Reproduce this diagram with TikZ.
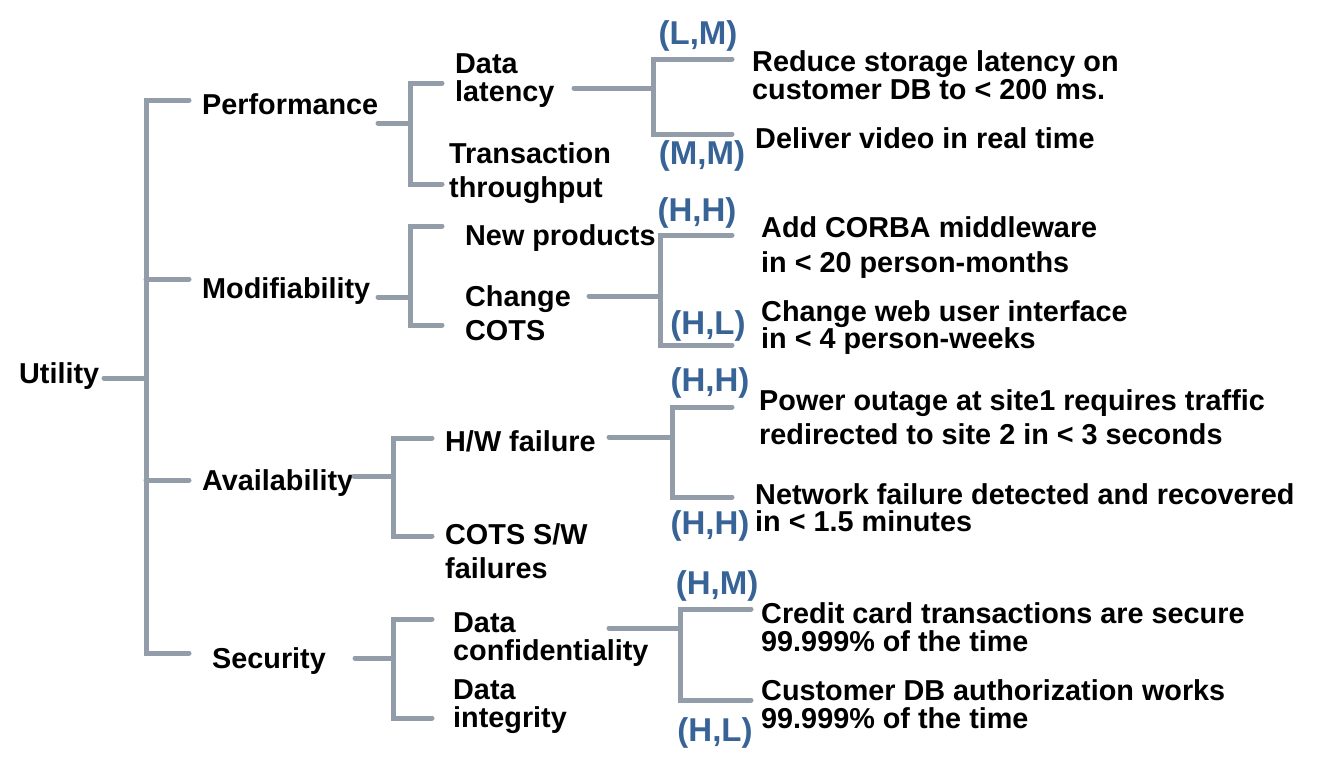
\documentclass[tikz,border=0pt]{standalone}
\usepackage{fontspec}
\setmainfont{Liberation Sans}
\definecolor{lnc}{RGB}{147,157,170}
\definecolor{lbl}{RGB}{56,99,150}
\begin{document}
\begin{tikzpicture}[x=1pt,y=-1pt,
  txt/.style={anchor=west, inner sep=0pt, yshift=-3pt, align=left, font=\bfseries\fontsize{28.8}{28}\selectfont},
  txtl/.style={txt, font=\bfseries\fontsize{28.8}{34}\selectfont},
  lab/.style={inner sep=0pt, yshift=-3pt, text=lbl, font=\bfseries\fontsize{33}{33}\selectfont},
  ln/.style={draw=lnc, line width=5pt, line cap=round, line join=miter}]
\useasboundingbox (0,0) rectangle (1317,758);

% ---- texts level 0/1
\node[txt] (utility) at (19,373) {Utility};
\node[txt] (perf) at (202,101) {Performance};
\node[txt] (modif) at (202,288) {Modifiability};
\node[txt] (avail) at (202,480) {Availability};
\node[txt] (secur) at (212,658) {Security};

% ---- level 2
\node[txt] (dlat) at (455,78) {Data\\latency};
\node[txtl] (tthr) at (449,170) {Transaction\\throughput};
\node[txt] (newp) at (465,235) {New products};
\node[txtl] (chcots) at (465,310) {Change\\COTS};
\node[txt] (hwf) at (445,438) {H/W failure};
\node[txtl] (cotssw) at (445,548) {COTS S/W\\failures};
\node[txt] (dconf) at (453,637) {Data\\confidentiality};
\node[txt] (dint) at (453,704) {Data\\integrity};

% ---- scenarios
\node[txt] (r1) at (752,72) {Reduce storage latency on\\customer DB to < 200 ms.};
\node[txt] (r2) at (755,135) {Deliver video in real time};
\node[txt, font=\bfseries\fontsize{28.8}{35}\selectfont] (r3) at (761,245) {Add CORBA middleware\\in < 20 person-months};
\node[txt, font=\bfseries\fontsize{28.8}{27}\selectfont] (r4) at (761,325) {Change web user interface\\in < 4 person-weeks};
\node[txtl] (r5) at (759,414) {Power outage at site1 requires traffic\\redirected to site 2 in < 3 seconds};
\node[txt, font=\bfseries\fontsize{28.8}{27}\selectfont] (r6) at (755,505) {Network failure detected and recovered\\in < 1.5 minutes};
\node[txt] (r7) at (761,624) {Credit card transactions are secure\\99.999\% of the time};
\node[txt] (r8) at (761,701) {Customer DB authorization works\\99.999\% of the time};

% ---- priority labels
\node[lab] (lm) at (698,33) {(L,M)};
\node[lab] (mm) at (702,153) {(M,M)};
\node[lab] (hh1) at (697,210) {(H,H)};
\node[lab] (hl1) at (708,323) {(H,L)};
\node[lab] (hh2) at (710,380) {(H,H)};
\node[lab] (hh3) at (710,523) {(H,H)};
\node[lab] (hm) at (717,583) {(H,M)};
\node[lab] (hl2) at (715,730) {(H,L)};

% ---- connector coordinates
\coordinate (u0) at (104,378);   \coordinate (u1) at (146,378);
\coordinate (tP) at (146,100);   \coordinate (tPe) at (189,100);
\coordinate (tM) at (146,279);   \coordinate (tMe) at (189,279);
\coordinate (tA) at (146,480);   \coordinate (tAe) at (189,480);
\coordinate (tS) at (146,653);   \coordinate (tSe) at (189,653);

\coordinate (p0) at (378,123);   \coordinate (p1) at (410,123);
\coordinate (pa) at (442,83);    \coordinate (pb) at (442,184);
\coordinate (m0) at (378,297);   \coordinate (m1) at (410,297);
\coordinate (ma) at (442,226);   \coordinate (mb) at (442,325);
\coordinate (a0) at (354,476);   \coordinate (a1) at (393,476);
\coordinate (aa) at (432,438);   \coordinate (ab) at (432,536);
\coordinate (s0) at (355,658);   \coordinate (s1) at (393,658);
\coordinate (sa) at (432,619);   \coordinate (sb) at (432,718);

\coordinate (d0) at (574,88);    \coordinate (d1) at (653,88);
\coordinate (da) at (732,59);    \coordinate (db) at (732,134);
\coordinate (c0) at (589,296);   \coordinate (c1) at (660,296);
\coordinate (ca) at (732,235);   \coordinate (cb) at (732,345);
\coordinate (h0) at (609,437);   \coordinate (h1) at (672,437);
\coordinate (ha) at (732,407);   \coordinate (hb) at (732,497);
\coordinate (f0) at (609,628);   \coordinate (f1) at (680,628);
\coordinate (fa) at (751,609);   \coordinate (fb) at (751,700);

% ---- connectors
\draw[ln] (u0) -- (u1);
\draw[ln] (tPe) -- (tP) -- (tS) -- (tSe);
\draw[ln] (tM) -- (tMe);
\draw[ln] (tA) -- (tAe);

\draw[ln] (p0) -- (p1);
\draw[ln] (pa) -| (p1) |- (pb);
\draw[ln] (m0) -- (m1);
\draw[ln] (ma) -| (m1) |- (mb);
\draw[ln] (a0) -- (a1);
\draw[ln] (aa) -| (a1) |- (ab);
\draw[ln] (s0) -- (s1);
\draw[ln] (sa) -| (s1) |- (sb);

\draw[ln] (d0) -- (d1);
\draw[ln] (da) -| (d1) |- (db);
\draw[ln] (c0) -- (c1);
\draw[ln] (ca) -| (c1) |- (cb);
\draw[ln] (h0) -- (h1);
\draw[ln] (ha) -| (h1) |- (hb);
\draw[ln] (f0) -- (f1);
\draw[ln] (fa) -| (f1) |- (fb);
\end{tikzpicture}
\end{document}
